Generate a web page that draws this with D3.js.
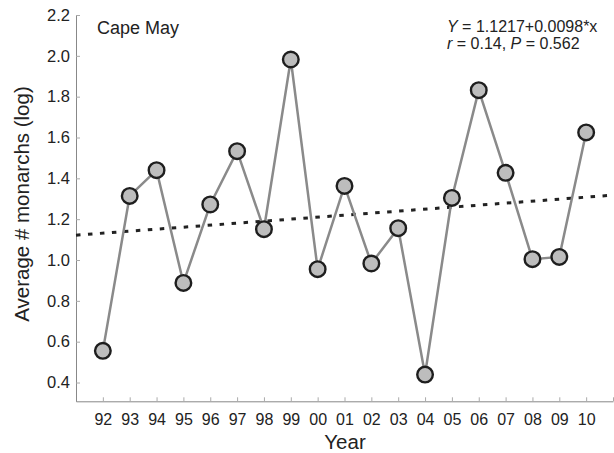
<!DOCTYPE html>
<html>
<head>
<meta charset="utf-8">
<script src="https://d3js.org/d3.v7.min.js"></script>
<style>
  body { margin: 0; background: #fff; }
  svg { display: block; }
  text { font-family: "Liberation Sans", Arial, sans-serif; fill: #222; }
</style>
</head>
<body>
<script>
const years = ["92","93","94","95","96","97","98","99","00","01","02","03","04","05","06","07","08","09","10"];
const values = [0.555,1.314,1.44,0.888,1.272,1.533,1.151,1.982,0.955,1.363,0.983,1.156,0.439,1.304,1.832,1.427,1.004,1.015,1.625];
const yTicks = [0.4,0.6,0.8,1.0,1.2,1.4,1.6,1.8,2.0,2.2];
const trendIntercept = 1.1217;
const trendSlope = 0.0098;
const trendX = [0, 20];

const W = 614, H = 453;
const svg = d3.select("body").append("svg").attr("width", W).attr("height", H);

const x = d3.scaleLinear().domain([0, 20]).range([76, 613]);
const y = d3.scaleLinear().domain([0.308, 2.2]).range([401.3, 15]);

// axes
const yAxis = d3.axisLeft(y).tickValues(yTicks).tickFormat(d3.format(".1f")).tickSizeInner(-4).tickSizeOuter(0).tickPadding(6);
const gy = svg.append("g").attr("transform", "translate(76,0)").call(yAxis);
gy.select(".domain").attr("stroke", "#888").attr("stroke-width", 1);
gy.selectAll(".tick line").attr("stroke", "#aaa");
gy.selectAll(".tick text").attr("font-size", 16.5).attr("fill", "#222").attr("font-family", "Liberation Sans, Arial, sans-serif");

const xTickVals = d3.range(1, 21);
const xAxis = d3.axisBottom(x).tickValues(xTickVals).tickFormat(i => years[i - 1] || "").tickSizeInner(-4).tickSizeOuter(0).tickPadding(12);
const gx = svg.append("g").attr("transform", "translate(0,401.3)").call(xAxis);
gx.select(".domain").attr("stroke", "#888").attr("stroke-width", 1);
gx.selectAll(".tick line").attr("stroke", "#aaa");
gx.selectAll(".tick text").attr("font-size", 16).attr("fill", "#222").attr("font-family", "Liberation Sans, Arial, sans-serif");

// trend line
svg.append("line")
  .attr("x1", x(trendX[0])).attr("y1", y(trendIntercept + trendSlope * trendX[0]))
  .attr("x2", x(trendX[1])).attr("y2", y(trendIntercept + trendSlope * trendX[1]))
  .attr("stroke", "#222").attr("stroke-width", 3)
  .attr("stroke-dasharray", "4.5,7.5");

// data line
const pts = values.map((v, i) => [x(i + 1), y(v)]);
svg.append("path")
  .attr("d", d3.line()(pts))
  .attr("fill", "none").attr("stroke", "#8a8a8a").attr("stroke-width", 2.5);

svg.selectAll("circle.pt").data(values).enter().append("circle")
  .attr("class", "pt")
  .attr("cx", (d, i) => x(i + 1)).attr("cy", d => y(d))
  .attr("r", 7.8)
  .attr("fill", "#bdbdbd").attr("stroke", "#1e1e1e").attr("stroke-width", 2.4);

// texts
svg.append("text").attr("x", 97).attr("y", 34).attr("font-size", 18).text("Cape May");

const eq = svg.append("text").attr("x", 447).attr("y", 32).attr("font-size", 16);
eq.append("tspan").attr("font-style", "italic").text("Y");
eq.append("tspan").text(" = 1.1217+0.0098*x");
const eq2 = svg.append("text").attr("x", 447).attr("y", 49).attr("font-size", 16);
eq2.append("tspan").attr("font-style", "italic").text("r");
eq2.append("tspan").text(" = 0.14, ");
eq2.append("tspan").attr("font-style", "italic").text("P");
eq2.append("tspan").text(" = 0.562");

svg.append("text").attr("x", 345).attr("y", 449).attr("text-anchor", "middle").attr("font-size", 20.5).text("Year");
svg.append("text").attr("transform", "translate(29,204) rotate(-90)").attr("text-anchor", "middle").attr("font-size", 20.5).text("Average # monarchs (log)");
</script>
</body>
</html>
